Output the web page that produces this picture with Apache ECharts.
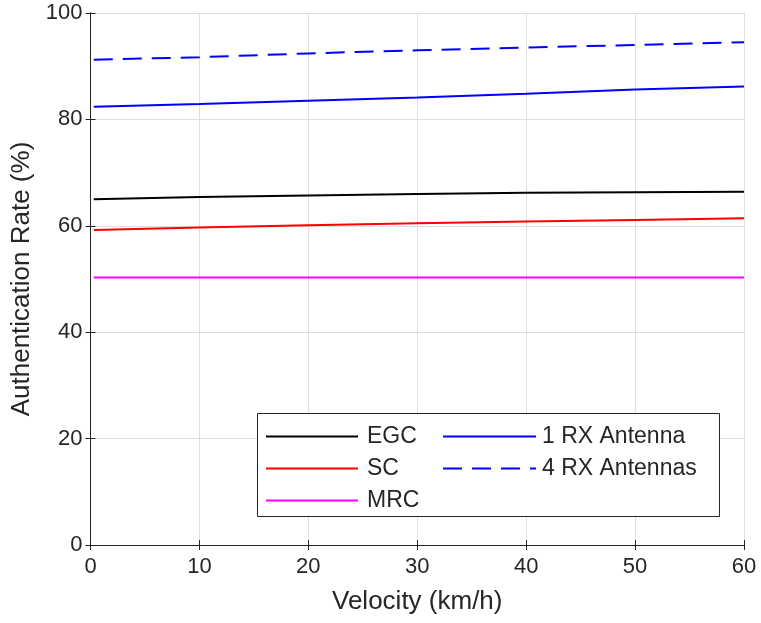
<!DOCTYPE html>
<html>
<head>
<meta charset="utf-8">
<script src="https://cdn.jsdelivr.net/npm/echarts@6/dist/echarts.min.js"></script>
<style>
html,body{margin:0;padding:0;background:#fff;}
#chart{width:761px;height:623px;}
</style>
</head>
<body>
<div id="chart"></div>
<script>
const velocity = [0.3, 10, 20, 30, 40, 50, 60];
const egc = [65.0, 65.4, 65.7, 66.0, 66.2, 66.3, 66.4];
const sc  = [59.2, 59.7, 60.1, 60.5, 60.8, 61.1, 61.4];
const mrc = [50.3, 50.3, 50.3, 50.3, 50.3, 50.3, 50.3];
const rx1 = [82.4, 82.9, 83.5, 84.1, 84.8, 85.6, 86.2];
const rx4 = [91.2, 91.7, 92.4, 93.0, 93.5, 94.0, 94.5];
const xTicks = {min: 0, max: 60, interval: 10};
const yTicks = {min: 0, max: 100, interval: 20};

const FONT = "'Liberation Sans', Arial, sans-serif";
const TXT = '#262626';
const pair = arr => velocity.map((v, i) => [v, arr[i]]);

const chart = echarts.init(document.getElementById('chart'), null, {renderer: 'canvas'});
const axisCommon = {
  axisLine: {show: true, lineStyle: {color: TXT, width: 1}},
  axisTick: {show: true, inside: true, length: 5, lineStyle: {color: TXT}},
};
const legendCommon = {
  orient: 'vertical', top: 425, itemHeight: 14, itemGap: 9, padding: 0,
  itemStyle: {opacity: 0, borderWidth: 0},
  lineStyle: {width: 2},
  z: 5
};
chart.setOption({
  animation: false,
  backgroundColor: '#fff',
  textStyle: {fontFamily: FONT},
  grid: {left: 90.5, right: 17, top: 13, bottom: 78, containLabel: false},
  xAxis: [
    Object.assign({
      type: 'value', min: xTicks.min, max: xTicks.max, interval: xTicks.interval,
      position: 'bottom',
      name: 'Velocity (km/h)', nameLocation: 'middle', nameGap: 44,
      nameTextStyle: {color: TXT, fontSize: 26, fontFamily: FONT},
      axisLabel: {color: TXT, fontSize: 22, margin: 11, fontFamily: FONT},
      splitLine: {show: true, lineStyle: {color: '#dfdfdf', width: 1}},
    }, axisCommon),
    Object.assign({
      type: 'value', min: xTicks.min, max: xTicks.max, interval: xTicks.interval,
      position: 'top', axisLabel: {show: false}, splitLine: {show: false},
    }, axisCommon)
  ],
  yAxis: [
    Object.assign({
      type: 'value', min: yTicks.min, max: yTicks.max, interval: yTicks.interval,
      position: 'left',
      name: 'Authentication Rate (%)', nameLocation: 'middle', nameGap: 54,
      nameTextStyle: {color: TXT, fontSize: 26, fontFamily: FONT},
      axisLabel: {color: TXT, fontSize: 22, margin: 8, fontFamily: FONT},
      splitLine: {show: true, lineStyle: {color: '#dfdfdf', width: 1}},
    }, axisCommon),
    Object.assign({
      type: 'value', min: yTicks.min, max: yTicks.max, interval: yTicks.interval,
      position: 'right', axisLabel: {show: false}, splitLine: {show: false},
    }, axisCommon)
  ],
  legend: [
    Object.assign({
      data: ['EGC', 'SC', 'MRC'], left: 265, itemWidth: 92,
      textStyle: {color: TXT, fontSize: 23, lineHeight: 23, fontFamily: FONT, padding: [0, 0, 0, 4]}
    }, legendCommon),
    Object.assign({
      data: ['1 RX Antenna', '4 RX Antennas'], left: 442, itemWidth: 93,
      textStyle: {color: TXT, fontSize: 23, lineHeight: 23, fontFamily: FONT, padding: [0, 0, 0, 1]}
    }, legendCommon)
  ],
  graphic: [{
    type: 'rect', z: 3,
    shape: {x: 257.5, y: 413.5, width: 462, height: 103},
    style: {fill: '#fff', stroke: TXT, lineWidth: 1}
  }],
  series: [
    {name: 'EGC', type: 'line', data: pair(egc), showSymbol: false, symbol: 'none',
     lineStyle: {color: '#000000', width: 2}, itemStyle: {color: '#000000'}},
    {name: 'SC', type: 'line', data: pair(sc), showSymbol: false, symbol: 'none',
     lineStyle: {color: '#ff0000', width: 2}, itemStyle: {color: '#ff0000'}},
    {name: 'MRC', type: 'line', data: pair(mrc), showSymbol: false, symbol: 'none',
     lineStyle: {color: '#ff00ff', width: 2}, itemStyle: {color: '#ff00ff'}},
    {name: '1 RX Antenna', type: 'line', data: pair(rx1), showSymbol: false, symbol: 'none',
     lineStyle: {color: '#0000ff', width: 2}, itemStyle: {color: '#0000ff'}},
    {name: '4 RX Antennas', type: 'line', data: pair(rx4), showSymbol: false, symbol: 'none',
     lineStyle: {color: '#0000ff', width: 2, type: [19, 10]}, itemStyle: {color: '#0000ff'}}
  ]
});
</script>
</body>
</html>
